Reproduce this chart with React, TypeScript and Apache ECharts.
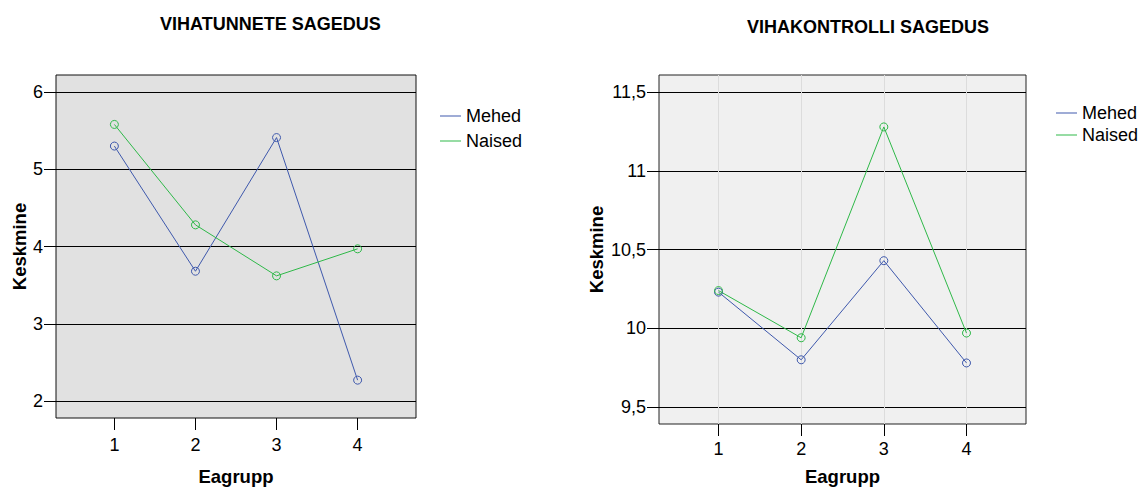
import React, { useEffect, useRef } from "react";
import * as echarts from "echarts";

const groups = [1, 2, 3, 4];
const leftMehed = [5.3, 3.68, 5.41, 2.27];
const leftNaised = [5.58, 4.28, 3.62, 3.97];
const rightMehed = [10.23, 9.8, 10.43, 9.78];
const rightNaised = [10.24, 9.94, 11.28, 9.97];
const leftTicks = [2, 3, 4, 5, 6];
const rightTicks = [9.5, 10, 10.5, 11, 11.5];
const seriesNames = ["Mehed", "Naised"];
const titles = ["VIHATUNNETE SAGEDUS", "VIHAKONTROLLI SAGEDUS"];

const BLUE = "#3E58AC";
const GREEN = "#2EB848";
const FONT = "'Liberation Sans', Arial, sans-serif";

const pairs = (vals: number[]) => groups.map((g, i) => [g, vals[i]]);

function lineSeries(name: string, color: string, vals: number[], idx: number) {
  return {
    type: "line",
    name,
    xAxisIndex: idx,
    yAxisIndex: idx,
    data: pairs(vals),
    symbol: "circle",
    symbolSize: 8,
    itemStyle: { color: "rgba(0,0,0,0)", borderColor: color, borderWidth: 1 },
    lineStyle: { color, width: 1 },
    emphasis: { disabled: true },
  };
}

export default function App() {
  const ref = useRef<HTMLDivElement>(null);
  useEffect(() => {
    if (!ref.current) return;
    const chart = echarts.init(ref.current, undefined, { renderer: "svg" });
    const axisLabelStyle = { fontSize: 18, color: "#000", fontFamily: FONT };
    const nameStyle = { fontSize: 18.5, fontWeight: "bold", color: "#000", fontFamily: FONT };
    const xAxisCommon = (nameGap: number, margin: number, vgrid: boolean) => ({
      type: "value",
      min: 0.28,
      max: 4.72,
      name: "Eagrupp",
      nameLocation: "middle",
      nameGap,
      nameTextStyle: nameStyle,
      axisLine: { show: false },
      axisTick: { show: true, customValues: groups, length: 12, lineStyle: { color: "#000" } },
      axisLabel: { customValues: groups, margin, ...axisLabelStyle },
      splitLine: { show: vgrid, lineStyle: { color: "#dcdcdc", width: 1 } },
    });
    const legendData = [
      { name: seriesNames[0], itemStyle: { color: BLUE, borderWidth: 0 } },
      { name: seriesNames[1], itemStyle: { color: GREEN, borderWidth: 0 } },
    ];
    chart.setOption({
      animation: false,
      textStyle: { fontFamily: FONT },
      title: [
        { text: titles[0], left: 160, top: 15, padding: 0, textStyle: { fontSize: 18, fontWeight: "bold", color: "#000", fontFamily: FONT } },
        { text: titles[1], left: 747, top: 18, padding: 0, textStyle: { fontSize: 18, fontWeight: "bold", color: "#000", fontFamily: FONT } },
      ],
      legend: [
        {
          orient: "vertical", left: 440, top: 107, padding: 0, itemGap: 7, itemWidth: 21, itemHeight: 1, icon: "rect",
          data: legendData, selectedMode: false, textStyle: { fontSize: 18, color: "#000", fontFamily: FONT },
        },
        {
          orient: "vertical", left: 1056, top: 104, padding: 0, itemGap: 4, itemWidth: 21, itemHeight: 1, icon: "rect",
          data: legendData, selectedMode: false, textStyle: { fontSize: 18, color: "#000", fontFamily: FONT },
        },
      ],
      grid: [
        { left: 56, top: 75, width: 360, height: 343, show: true, backgroundColor: "#e1e1e1", borderColor: "#111", borderWidth: 1, outerBoundsMode: "none", containLabel: false },
        { left: 659, top: 75, width: 367, height: 349, show: true, backgroundColor: "#f0f0f0", borderColor: "#222", borderWidth: 1, outerBoundsMode: "none", containLabel: false },
      ],
      xAxis: [
        { gridIndex: 0, ...xAxisCommon(49, 18, false) },
        { gridIndex: 1, ...xAxisCommon(43, 16, true) },
      ],
      yAxis: [
        {
          gridIndex: 0, type: "value", min: 1.78, max: 6.22,
          name: "Keskmine", nameLocation: "middle", nameGap: 26, nameTextStyle: nameStyle,
          axisLine: { show: false },
          axisTick: { show: true, customValues: leftTicks, length: 12, lineStyle: { color: "#000" } },
          axisLabel: { customValues: leftTicks, margin: 13, ...axisLabelStyle },
          splitLine: { show: true, lineStyle: { color: "#000", width: 1 } },
        },
        {
          gridIndex: 1, type: "value", min: 9.392, max: 11.61,
          name: "Keskmine", nameLocation: "middle", nameGap: 53, nameTextStyle: nameStyle,
          axisLine: { show: false },
          axisTick: { show: true, customValues: rightTicks, length: 12, lineStyle: { color: "#000" } },
          axisLabel: {
            customValues: rightTicks, margin: 13, ...axisLabelStyle,
            formatter: (v: number) => String(v).replace(".", ","),
          },
          splitLine: { show: true, lineStyle: { color: "#000", width: 1 } },
        },
      ],
      series: [
        lineSeries(seriesNames[0], BLUE, leftMehed, 0),
        lineSeries(seriesNames[1], GREEN, leftNaised, 0),
        lineSeries(seriesNames[0], BLUE, rightMehed, 1),
        lineSeries(seriesNames[1], GREEN, rightNaised, 1),
      ],
    });
    return () => chart.dispose();
  }, []);
  return (
    <div
      ref={ref}
      style={{ position: "absolute", left: 0, top: 0, width: 1144, height: 488, background: "#fff" }}
    />
  );
}
